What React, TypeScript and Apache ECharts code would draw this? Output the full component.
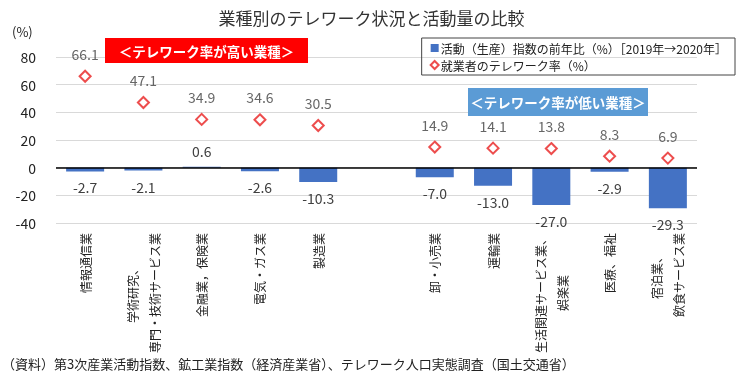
import React, { useEffect, useRef } from "react";
import * as echarts from "echarts";

const categories = [
  "情報通信業",
  "学術研究、\n専門・技術サービス業",
  "金融業，保険業",
  "電気・ガス業",
  "製造業",
  "",
  "卸・小売業",
  "運輸業",
  "生活関連サービス業、\n娯楽業",
  "医療、福祉",
  "宿泊業、\n飲食サービス業",
];
const activityChange: (number | null)[] = [-2.7, -2.1, 0.6, -2.6, -10.3, null, -7.0, -13.0, -27.0, -2.9, -29.3];
const teleworkRate: (number | null)[] = [66.1, 47.1, 34.9, 34.6, 30.5, null, 14.9, 14.1, 13.8, 8.3, 6.9];
const yTicks = { min: -40, max: 80, interval: 20 };

const seriesNames = ["活動（生産）指数の前年比（%）［2019年→2020年］", "就業者のテレワーク率（%）"];
const titleText = "業種別のテレワーク状況と活動量の比較";
const highLabel = "＜テレワーク率が高い業種＞";
const lowLabel = "＜テレワーク率が低い業種＞";
const sourceText = "（資料）第3次産業活動指数、鉱工業指数（経済産業省）、テレワーク人口実態調査（国土交通省）";

const FONT = "'Noto Sans CJK JP', 'Noto Sans', sans-serif";

export default function App() {
  const ref = useRef<HTMLDivElement>(null);
  useEffect(() => {
    if (!ref.current) return;
    const chart = echarts.init(ref.current, undefined, { renderer: "svg" });
    const fmt = (p: any) => (p.value == null ? "" : Number(p.value).toFixed(1));
    chart.setOption({
      animation: false,
      textStyle: { fontFamily: FONT },
      title: {
        text: titleText,
        left: "center",
        top: 4,
        textStyle: { fontFamily: FONT, fontSize: 17, fontWeight: "normal", color: "#333" },
      },
      legend: {
        orient: "vertical",
        right: 8,
        top: 38,
        padding: [4, 8, 4, 8],
        itemGap: 5,
        itemWidth: 8,
        itemHeight: 8,
        borderColor: "#444",
        borderWidth: 1,
        textStyle: { fontFamily: FONT, fontSize: 12, color: "#222", padding: [0, 0, 0, -3] },
        data: [
          { name: seriesNames[0], icon: "rect" },
          { name: seriesNames[1] },
        ],
      },
      grid: { left: 56, right: 46, top: 57, bottom: 153, containLabel: false },
      xAxis: {
        type: "category",
        data: categories,
        axisLine: { show: false },
        axisTick: { show: false },
        axisLabel: {
          interval: 0,
          rotate: 90,
          margin: 10,
          fontFamily: FONT,
          fontSize: 12,
          color: "#222",
          lineHeight: 22,
          formatter: (v: string) =>
            v
              .split("\n")
              .map((s) => `{c|${s}}`)
              .join("\n"),
          rich: { c: { align: "center", fontFamily: FONT, fontSize: 12, lineHeight: 22, color: "#222" } },
        },
      },
      yAxis: {
        type: "value",
        min: yTicks.min,
        max: yTicks.max,
        interval: yTicks.interval,
        axisLine: { show: false },
        axisTick: { show: false },
        axisLabel: { fontFamily: FONT, fontSize: 14, color: "#222", margin: 20 },
        splitLine: { lineStyle: { color: "#d9d9d9", width: 1 } },
      },
      graphic: [
        {
          type: "text",
          left: 12,
          top: 25,
          style: { text: "(%)", fontFamily: FONT, fontSize: 13, fill: "#222" },
        },
        {
          type: "rect",
          z: 50,
          shape: { x: 105, y: 38, width: 203, height: 25 },
          style: { fill: "#FF0000" },
        },
        {
          type: "text",
          z: 51,
          x: 206.5,
          y: 50.5,
          style: {
            text: highLabel,
            fontFamily: FONT,
            fontSize: 13.5,
            fontWeight: "bold",
            fill: "#fff",
            align: "center",
            verticalAlign: "middle",
          },
        },
        {
          type: "rect",
          z: 50,
          shape: { x: 468, y: 88, width: 180, height: 28 },
          style: { fill: "#5B9BD5" },
        },
        {
          type: "text",
          z: 51,
          x: 558,
          y: 102,
          style: {
            text: lowLabel,
            fontFamily: FONT,
            fontSize: 13.5,
            fontWeight: "bold",
            fill: "#fff",
            align: "center",
            verticalAlign: "middle",
          },
        },
        {
          type: "text",
          left: 2,
          top: 357,
          style: { text: sourceText, fontFamily: FONT, fontSize: 13, fill: "#222" },
        },
      ],
      series: [
        {
          name: seriesNames[0],
          type: "bar",
          barWidth: 38,
          itemStyle: { color: "#4472C4" },
          data: activityChange.map((v) =>
            v == null ? null : { value: v, label: { position: v >= 0 ? "top" : "bottom" } }
          ),
          label: {
            show: true,
            distance: 9,
            fontFamily: FONT,
            fontSize: 14,
            color: "#404040",
            formatter: fmt,
          },
          markLine: {
            silent: true,
            symbol: ["none", "none"],
            label: { show: false },
            lineStyle: { color: "#000", width: 1.5, type: "solid" },
            data: [{ yAxis: 0 }],
          },
        },
        {
          name: seriesNames[1],
          type: "scatter",
          symbol: "emptyDiamond",
          symbolSize: 11,
          itemStyle: { color: "#E82020", borderWidth: 1.3 },
          data: teleworkRate,
          label: {
            show: true,
            position: "top",
            distance: 9,
            fontFamily: FONT,
            fontSize: 14,
            color: "#404040",
            formatter: fmt,
          },
        },
      ],
    });
    return () => chart.dispose();
  }, []);
  return <div ref={ref} style={{ position: "fixed", left: 0, top: 0, width: 743, height: 376 }} />;
}
